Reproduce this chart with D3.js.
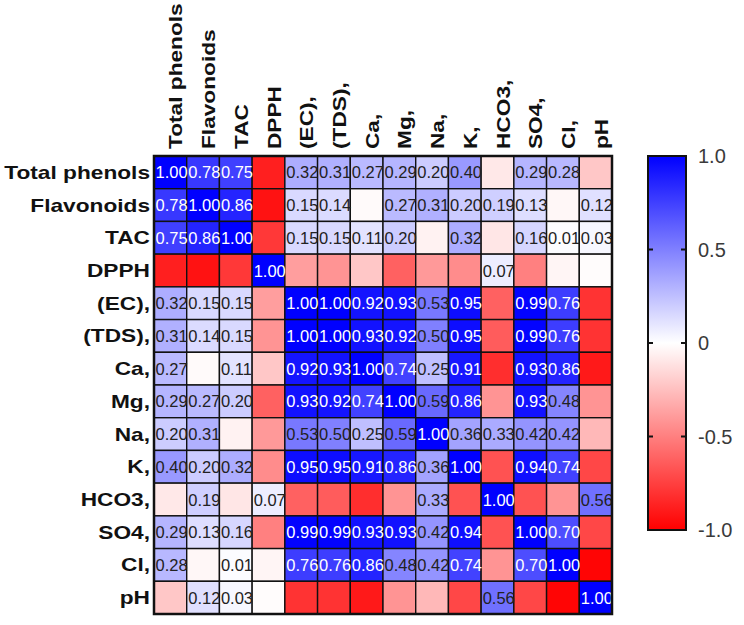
<!DOCTYPE html>
<html>
<head>
<meta charset="utf-8">
<script src="https://cdn.jsdelivr.net/npm/d3@7.9.0/dist/d3.min.js"></script>
<style>
  body { margin: 0; background: #fff; }
  svg { display: block; }
  .lab { font-family: "Liberation Sans", Arial, sans-serif; font-weight: bold; font-size: 18px; fill: #111; }
  .val { font-family: "Liberation Sans", Arial, sans-serif; font-size: 16.5px; }
  .cbtick { font-family: "Liberation Sans", Arial, sans-serif; font-size: 20px; fill: #3a3a3a; }
</style>
</head>
<body>
<svg id="chart" width="744" height="625"></svg>
<script>
const variables = ['Total phenols', 'Flavonoids', 'TAC', 'DPPH', '(EC),', '(TDS),', 'Ca,', 'Mg,',
    'Na,', 'K,', 'HCO3,', 'SO4,', 'Cl,', 'pH'];

// correlation matrix, row by row (same order as variables)
const corr = [
    [ 1.00,  0.78,  0.75, -0.88,  0.32,  0.31,  0.27,  0.29,  0.20,  0.40, -0.09,  0.29,  0.28, -0.22],
    [ 0.78,  1.00,  0.86, -0.93,  0.15,  0.14, -0.02,  0.27,  0.31,  0.20,  0.19,  0.13, -0.03,  0.12],
    [ 0.75,  0.86,  1.00, -0.78,  0.15,  0.15,  0.11,  0.20, -0.05,  0.32, -0.10,  0.16,  0.01,  0.03],
    [-0.88, -0.93, -0.78,  1.00, -0.38, -0.42, -0.22, -0.62, -0.40, -0.45,  0.07, -0.50, -0.04, -0.01],
    [ 0.32,  0.15,  0.15, -0.38,  1.00,  1.00,  0.92,  0.93,  0.53,  0.95, -0.62,  0.99,  0.76, -0.80],
    [ 0.31,  0.14,  0.15, -0.42,  1.00,  1.00,  0.93,  0.92,  0.50,  0.95, -0.64,  0.99,  0.76, -0.80],
    [ 0.27, -0.02,  0.11, -0.22,  0.92,  0.93,  1.00,  0.74,  0.25,  0.91, -0.82,  0.93,  0.86, -0.90],
    [ 0.29,  0.27,  0.20, -0.62,  0.93,  0.92,  0.74,  1.00,  0.59,  0.86, -0.42,  0.93,  0.48, -0.42],
    [ 0.20,  0.31, -0.05, -0.40,  0.53,  0.50,  0.25,  0.59,  1.00,  0.36,  0.33,  0.42,  0.42, -0.28],
    [ 0.40,  0.20,  0.32, -0.45,  0.95,  0.95,  0.91,  0.86,  0.36,  1.00, -0.68,  0.94,  0.74, -0.72],
    [-0.09,  0.19, -0.10,  0.07, -0.62, -0.64, -0.82, -0.42,  0.33, -0.68,  1.00, -0.68, -0.42,  0.56],
    [ 0.29,  0.13,  0.16, -0.50,  0.99,  0.99,  0.93,  0.93,  0.42,  0.94, -0.68,  1.00,  0.70, -0.72],
    [ 0.28, -0.03,  0.01, -0.04,  0.76,  0.76,  0.86,  0.48,  0.42,  0.74, -0.42,  0.70,  1.00, -0.98],
    [-0.22,  0.12,  0.03, -0.01, -0.80, -0.80, -0.90, -0.42, -0.28, -0.72,  0.56, -0.72, -0.98,  1.00]
];

const cbTicks = [1, 0.5, 0, -0.5, -1];
const cbTickLabels = ['1.0', '0.5', '0', '-0.5', '-1.0'];

const svg = d3.select('#chart');

const grid = { left: 154, top: 156, size: 458 };
const x = d3.scaleBand().domain(variables).range([grid.left, grid.left + grid.size]);
const y = d3.scaleBand().domain(variables).range([grid.top, grid.top + grid.size]);
const color = d3.scaleLinear().domain([-1, 0, 1]).range(['#ff0000', '#ffffff', '#0000ff']);
const stretch = 1.26; // labels in the figure are drawn wide

const cells = [];
corr.forEach((row, i) => {
    row.forEach((v, j) => cells.push({ row: variables[i], col: variables[j], value: v }));
});

svg.append('g')
    .selectAll('rect')
    .data(cells)
    .join('rect')
    .attr('x', d => x(d.col))
    .attr('y', d => y(d.row))
    .attr('width', x.bandwidth())
    .attr('height', y.bandwidth())
    .attr('fill', d => color(d.value))
    .attr('stroke', '#111')
    .attr('stroke-width', 1.4);

// value labels only for positive coefficients
svg.append('g')
    .selectAll('text')
    .data(cells.filter(d => d.value >= 0))
    .join('text')
    .attr('class', 'val')
    .attr('x', d => x(d.col) + 1.5)
    .attr('y', d => y(d.row) + y.bandwidth() / 2 + 6)
    .attr('fill', d => d.value >= 0.65 ? '#fff' : '#222')
    .text(d => d3.format('.2f')(d.value));

svg.append('rect')
    .attr('x', grid.left)
    .attr('y', grid.top)
    .attr('width', grid.size)
    .attr('height', grid.size)
    .attr('fill', 'none')
    .attr('stroke', '#111')
    .attr('stroke-width', 2.5);

// row labels
svg.append('g')
    .selectAll('text')
    .data(variables)
    .join('text')
    .attr('class', 'lab')
    .attr('text-anchor', 'end')
    .attr('transform', d => `translate(${grid.left - 4},${y(d) + y.bandwidth() / 2 + 6.5}) scale(${stretch},1)`)
    .text(d => d);

// column labels
svg.append('g')
    .selectAll('text')
    .data(variables)
    .join('text')
    .attr('class', 'lab')
    .attr('transform', d => `translate(${x(d) + x.bandwidth() / 2 + 12},${grid.top - 7}) rotate(-90) scale(${stretch},1)`)
    .text(d => d);

// colour bar
const cb = { left: 648, width: 38, top: 156, bottom: 530 };
const cbScale = d3.scaleLinear().domain([-1, 1]).range([cb.bottom, cb.top]);

const grad = svg.append('defs').append('linearGradient')
    .attr('id', 'cbgrad')
    .attr('x1', 0).attr('x2', 0).attr('y1', 1).attr('y2', 0);
grad.selectAll('stop')
    .data([-1, 0, 1])
    .join('stop')
    .attr('offset', d => (d + 1) / 2)
    .attr('stop-color', d => color(d));

svg.append('rect')
    .attr('x', cb.left)
    .attr('y', cb.top)
    .attr('width', cb.width)
    .attr('height', cb.bottom - cb.top)
    .attr('fill', 'url(#cbgrad)')
    .attr('stroke', '#111')
    .attr('stroke-width', 2);

const inner = cbTicks.filter(t => t !== 1 && t !== -1);
svg.append('g')
    .selectAll('path')
    .data(inner)
    .join('path')
    .attr('d', t => `M${cb.left},${cbScale(t)}h5M${cb.left + cb.width - 5},${cbScale(t)}h5`)
    .attr('stroke', '#111')
    .attr('stroke-width', 2);

svg.append('g')
    .selectAll('text')
    .data(cbTicks)
    .join('text')
    .attr('class', 'cbtick')
    .attr('x', cb.left + cb.width + 12)
    .attr('y', t => cbScale(t) + 7)
    .text((t, i) => cbTickLabels[i]);
</script>
</body>
</html>
